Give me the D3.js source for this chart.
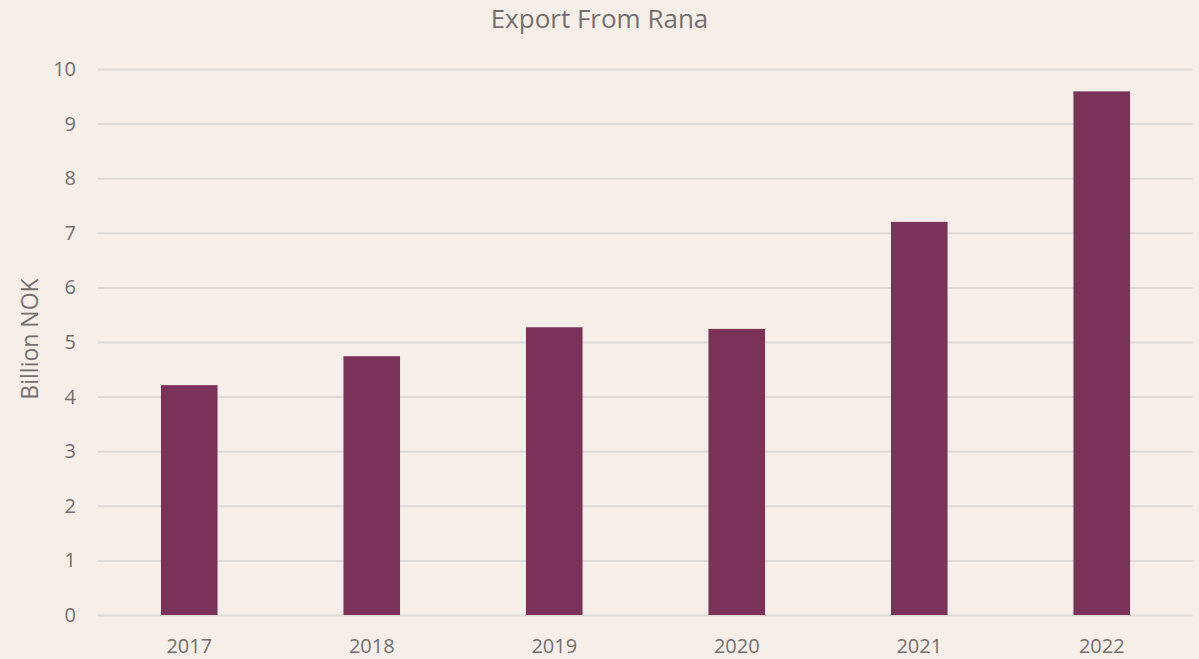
<!DOCTYPE html>
<html>
<head>
<meta charset="utf-8">
<script src="https://cdn.jsdelivr.net/npm/d3@7"></script>
<style>
  html, body { margin: 0; padding: 0; background: #F6EFE9; }
  svg { display: block; }
  text { font-family: "Open Sans", "Noto Sans", sans-serif; fill: #747070; }
</style>
</head>
<body>
<svg id="chart" width="1199" height="659"></svg>
<script>
// Annual export value from Rana, in billion NOK
const years = ["2017", "2018", "2019", "2020", "2021", "2022"];
const exportValues = [4.21, 4.74, 5.27, 5.24, 7.20, 9.59];
const yTicks = [0, 1, 2, 3, 4, 5, 6, 7, 8, 9, 10];

const W = 1199, H = 659;
const margin = { top: 69, right: 6, bottom: 44, left: 98 };

const svg = d3.select("#chart");
svg.append("rect").attr("width", W).attr("height", H).attr("fill", "#F6EFE9");

const x = d3.scaleBand()
  .domain(years)
  .range([margin.left, W - margin.right])
  .padding(0);

const y = d3.scaleLinear()
  .domain([0, 10])
  .range([H - margin.bottom, margin.top]);

// Horizontal gridlines (the 0 line doubles as the baseline)
const yAxis = d3.axisLeft(y).tickValues(yTicks).tickSize(-(W - margin.right - margin.left)).tickPadding(22).tickFormat(d3.format("d"));
const gy = svg.append("g").attr("transform", `translate(${margin.left},0)`).call(yAxis);
gy.select(".domain").remove();
gy.selectAll(".tick line").attr("stroke", "#DEDAD8").attr("stroke-width", 2);
gy.selectAll(".tick text").attr("font-size", 20).attr("fill", "#747070");

// Bars
const barW = x.bandwidth() * 0.31;
svg.append("g").selectAll("rect")
  .data(years)
  .join("rect")
  .attr("x", (d) => x(d) + x.bandwidth() / 2 - barW / 2)
  .attr("width", barW)
  .attr("y", (d, i) => y(exportValues[i]))
  .attr("height", (d, i) => y(0) - y(exportValues[i]))
  .attr("fill", "#7A3259");

// Category axis
const xAxis = d3.axisBottom(x).tickSize(0).tickPadding(24);
const gx = svg.append("g").attr("transform", `translate(0,${y(0)})`).call(xAxis);
gx.select(".domain").remove();
gx.selectAll(".tick text").attr("font-size", 20).attr("fill", "#747070");

// Title
svg.append("text")
  .attr("x", W / 2)
  .attr("y", 28)
  .attr("text-anchor", "middle")
  .attr("font-size", 26)
  .text("Export From Rana");

// Y axis title
svg.append("text")
  .attr("transform", `translate(38,339) rotate(-90)`)
  .attr("text-anchor", "middle")
  .attr("font-size", 23)
  .text("Billion NOK");
</script>
</body>
</html>
